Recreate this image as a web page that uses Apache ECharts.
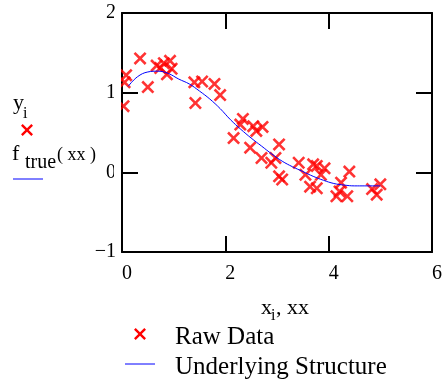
<!DOCTYPE html>
<html>
<head>
<meta charset="utf-8">
<script src="https://cdn.jsdelivr.net/npm/echarts@6/dist/echarts.min.js"></script>
<style>
	html, body { margin: 0; padding: 0; background: #fff; }
	#chart { width: 445px; height: 383px; }
</style>
</head>
<body>
<div id="chart"></div>
<script>
// raw data points (x_i, y_i)
const rawX = [0.08, 0.05, 0.03, 0.35, 0.50, 0.67, 0.74, 0.81, 0.93, 0.96, 0.87,
	1.40, 1.55, 1.79, 1.90, 1.42, 2.34, 2.29, 2.16, 2.54, 2.72, 2.60, 2.48, 2.70,
	2.89, 2.97, 3.04, 3.04, 3.10, 3.42, 3.55, 3.70, 3.77, 3.92, 3.64, 3.77, 3.85,
	4.40, 4.24, 4.15, 4.36, 4.21, 4.84, 5.00, 4.93];
const rawY = [1.22, 1.13, 0.83, 1.43, 1.07, 1.34, 1.31, 1.37, 1.40, 1.30, 1.23,
	1.13, 1.14, 1.11, 0.97, 0.87, 0.67, 0.60, 0.43, 0.58, 0.57, 0.52, 0.31, 0.18,
	0.12, 0.18, 0.35, -0.05, -0.09, 0.12, -0.03, 0.10, 0.08, 0.05, -0.18, -0.20, -0.03,
	0.01, -0.13, -0.30, -0.30, -0.24, -0.21, -0.15, -0.28];
// underlying structure f_true(xx)
const trueX = [0.12, 0.3, 0.5, 0.7, 0.9, 1.1, 1.3, 1.5, 1.7, 1.9, 2.1, 2.3, 2.5,
	2.7, 2.9, 3.1, 3.3, 3.5, 3.7, 3.9, 4.1, 4.3, 4.5, 4.7, 4.9, 5.0];
const trueY = [1.08, 1.20, 1.26, 1.27, 1.24, 1.17, 1.11, 1.02, 0.92, 0.80, 0.66,
	0.54, 0.43, 0.33, 0.23, 0.14, 0.07, 0.01, -0.05, -0.10, -0.14, -0.16, -0.17,
	-0.17, -0.17, -0.17];
const xTicks = [0, 2, 4, 6];
const yTicks = [-1, 0, 1, 2];
const legendNames = ["Raw Data", "Underlying Structure"];

const serif = "Liberation Serif";
const crossPts = [[0, 1.7], [1.7, 0], [6, 4.3], [10.3, 0], [12, 1.7], [7.7, 6], [12, 10.3],
	[10.3, 12], [6, 7.7], [1.7, 12], [0, 10.3], [4.3, 6]];
const crossIcon = "path://M" + crossPts.map(p => p.join(",")).join("L") + "Z";

const chart = echarts.init(document.getElementById("chart"), null, { renderer: "canvas" });

const axisLine = { show: true, onZero: false, lineStyle: { color: "#000", width: 2 } };
const tickIn = { show: true, inside: true, length: 16, lineStyle: { color: "#000", width: 2 } };

function xAxisOf(pos, labels) {
	return {
		type: "value", position: pos, min: xTicks[0], max: xTicks[xTicks.length - 1], interval: 2,
		axisLine, axisTick: tickIn, splitLine: { show: false },
		axisLabel: {
			show: labels, margin: 12, color: "#000", fontFamily: serif, fontSize: 20,
			padding: [0, 0, 0, 10]
		}
	};
}
function yAxisOf(pos, labels) {
	return {
		type: "value", position: pos, min: yTicks[0], max: yTicks[yTicks.length - 1], interval: 1,
		axisLine, axisTick: tickIn, splitLine: { show: false },
		axisLabel: {
			show: labels, margin: 6, color: "#000", fontFamily: serif, fontSize: 20,
			formatter: v => (v < 0 ? "\u2212" + Math.abs(v) : String(v))
		}
	};
}

function txt(left, top, text, size) {
	return { type: "text", left, top, style: { text, font: size + "px " + serif, fill: "#000" } };
}

chart.setOption({
	animation: false,
	backgroundColor: "#fff",
	grid: { left: 122, right: 5, top: 13, bottom: 131 },
	xAxis: [xAxisOf("bottom", true), xAxisOf("top", false)],
	yAxis: [yAxisOf("left", true), yAxisOf("right", false)],
	series: [
		{
			name: legendNames[0], type: "scatter", symbol: crossIcon, symbolSize: 13,
			itemStyle: { color: "#ff0000" },
			data: rawX.map((x, i) => [x, rawY[i]])
		},
		{
			name: legendNames[1], type: "line", smooth: 0.4, showSymbol: false,
			lineStyle: { color: "#0000ff", width: 1 }, itemStyle: { color: "#0000ff" },
			data: trueX.map((x, i) => [x, trueY[i]])
		}
	],
	graphic: [
		// hide part of markers that fall left of the y axis
		{ type: "rect", shape: { x: 114, y: 15, width: 7, height: 236 }, style: { fill: "#fff" }, z: 100 },
		// left key
		txt(13, 92, "y", 22),
		txt(23, 106, "i", 16),
		{ type: "polygon", x: 21, y: 124, shape: { points: crossPts }, style: { fill: "#ff0000" } },
		txt(12, 143, "f", 22),
		txt(25, 153, "true", 20),
		txt(57, 146, "( xx )", 18),
		{ type: "line", shape: { x1: 13, y1: 179, x2: 43, y2: 179 }, style: { stroke: "#0000ff", lineWidth: 1 } },
		// x axis title
		txt(261, 297, "x", 22),
		txt(271, 308, "i", 16),
		txt(276, 297, ", xx", 22),
		// bottom key
		{ type: "polygon", x: 134, y: 328, shape: { points: crossPts }, style: { fill: "#ff0000" } },
		txt(175, 325, legendNames[0], 25),
		{ type: "line", shape: { x1: 125, y1: 364, x2: 155, y2: 364 }, style: { stroke: "#0000ff", lineWidth: 1 } },
		txt(175, 355, legendNames[1], 25)
	]
});
</script>
</body>
</html>
